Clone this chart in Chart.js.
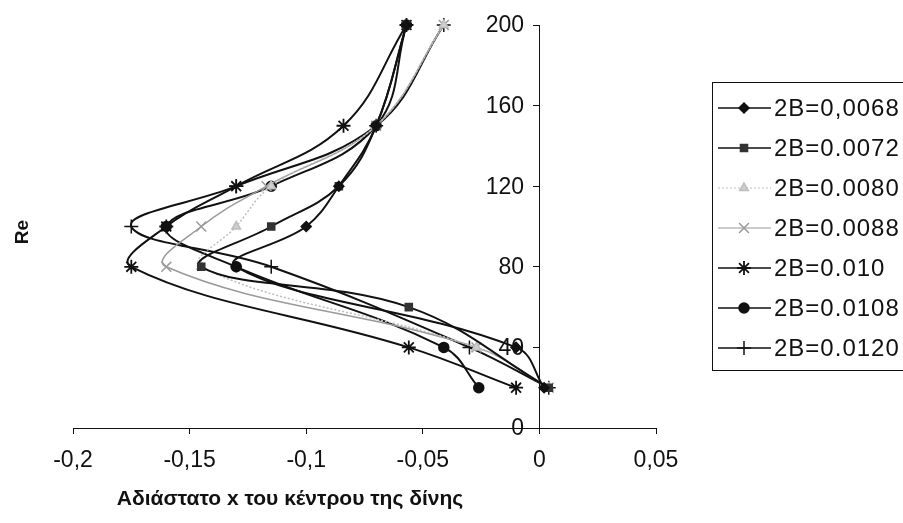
<!DOCTYPE html>
<html>
<head>
<meta charset="utf-8">
<script src="https://cdn.jsdelivr.net/npm/chart.js@4.4.0/dist/chart.umd.js"></script>
<style>
  html, body { margin:0; padding:0; background:#fff; }
  #wrap { position:relative; width:903px; height:523px; }
</style>
</head>
<body>
<div id="wrap"><canvas id="c" width="903" height="523"></canvas></div>
<script>
// series names as in the legend
const seriesNames = ['2B=0,0068', '2B=0.0072', '2B=0.0080', '2B=0.0088', '2B=0.010', '2B=0.0108', '2B=0.0120'];

// Re values (y) and x position of vortex centre for each series
const re0068 = [20, 40, 80, 100, 120, 150, 200];
const x0068  = [0.002, -0.010, -0.130, -0.100, -0.086, -0.070, -0.057];

const re0072 = [20, 60, 80, 100, 120, 150, 200];
const x0072  = [0.004, -0.056, -0.145, -0.115, -0.086, -0.070, -0.057];

const re0080 = [20, 40, 80, 100, 120, 150, 200];
const x0080  = [0.004, -0.027, -0.145, -0.130, -0.115, -0.070, -0.041];

const re0088 = [20, 40, 80, 100, 120, 150, 200];
const x0088  = [0.004, -0.027, -0.160, -0.145, -0.117, -0.070, -0.041];

const re0100 = [20, 40, 80, 100, 120, 150, 200];
const x0100  = [-0.010, -0.056, -0.175, -0.160, -0.130, -0.084, -0.057];

const re0108 = [20, 40, 80, 100, 120, 150, 200];
const x0108  = [-0.026, -0.041, -0.130, -0.160, -0.115, -0.070, -0.057];

const re0120 = [20, 40, 80, 100, 120, 150, 200];
const x0120  = [0.004, -0.030, -0.115, -0.175, -0.130, -0.070, -0.041];

const xTicks = [-0.2, -0.15, -0.1, -0.05, 0, 0.05];
const yTicks = [0, 40, 80, 120, 160, 200];

const FONT = "'Liberation Sans', Arial, sans-serif";

function pts(xs, ys) {
  return xs.map((x, i) => ({ x, y: ys[i] }));
}

function ds(label, xs, ys, st) {
  return Object.assign({
    label,
    data: pts(xs, ys),
    showLine: true,
    tension: 0.4,
    borderWidth: 2,
    borderColor: '#111',
    backgroundColor: '#111',
    pointBorderColor: '#111',
    pointBackgroundColor: '#111',
    pointRadius: 5,
    pointBorderWidth: 1.5,
  }, st);
}

const datasets = [
  ds(seriesNames[0], x0068, re0068, { pointStyle: 'rectRot', pointRadius: 5 }),
  ds(seriesNames[1], x0072, re0072, { pointStyle: 'rect', pointRadius: 5, pointBackgroundColor: '#333', pointBorderColor: '#333' }),
  ds(seriesNames[2], x0080, re0080, { pointStyle: 'triangle', borderColor: '#bdbdbd', borderWidth: 1.5, borderDash: [2, 2],
      pointBackgroundColor: '#cfcfcf', pointBorderColor: '#bdbdbd', pointRadius: 5 }),
  ds(seriesNames[3], x0088, re0088, { pointStyle: 'crossRot', borderColor: '#9a9a9a', borderWidth: 1.5,
      pointBorderColor: '#9a9a9a', pointRadius: 7, pointBorderWidth: 1.5 }),
  ds(seriesNames[4], x0100, re0100, { pointStyle: 'star', pointRadius: 7, pointBorderWidth: 1.8 }),
  ds(seriesNames[5], x0108, re0108, { pointStyle: 'circle', pointRadius: 5 }),
  ds(seriesNames[6], x0120, re0120, { pointStyle: 'cross', pointRadius: 7, pointBorderWidth: 1.5 }),
];

function fmt(v) {
  const r = Math.round(v * 100) / 100;
  return String(r).replace('.', ',');
}

// titles, y tick labels and the boxed legend drawn by hand
const extras = {
  id: 'extras',
  afterDraw(chart) {
    const ctx = chart.ctx;
    ctx.save();
    ctx.fillStyle = '#111';
    ctx.textBaseline = 'middle';

    // y tick labels, left of the axis at x = 0
    const ys = chart.scales.y;
    ctx.textAlign = 'right';
    ctx.font = `23px ${FONT}`;
    yTicks.forEach(v => ctx.fillText(String(v), 524, ys.getPixelForValue(v) + 1));

    ctx.textAlign = 'center';
    ctx.font = `bold 21px ${FONT}`;
    ctx.fillText('Αδιάστατο x του κέντρου της δίνης', 290, 499);
    ctx.save();
    ctx.translate(23, 232);
    ctx.rotate(-Math.PI / 2);
    ctx.font = `bold 19px ${FONT}`;
    ctx.fillText('Re', 0, 0);
    ctx.restore();

    // legend box
    ctx.strokeStyle = '#111';
    ctx.lineWidth = 1;
    ctx.strokeRect(712.5, 82.5, 200, 288);
    ctx.textAlign = 'left';
    ctx.font = `24px ${FONT}`;
    ctx.letterSpacing = '1px';
    chart.data.datasets.forEach((d, i) => {
      const y = 108 + i * 40;
      ctx.save();
      ctx.strokeStyle = d.borderColor;
      ctx.lineWidth = d.borderWidth > 1.5 ? 1.5 : 1.2;
      ctx.setLineDash(d.borderDash || []);
      ctx.beginPath();
      ctx.moveTo(718, y);
      ctx.lineTo(771, y);
      ctx.stroke();
      ctx.setLineDash([]);
      ctx.fillStyle = d.pointBackgroundColor;
      ctx.strokeStyle = d.pointBorderColor;
      ctx.lineWidth = d.pointBorderWidth;
      Chart.helpers.drawPoint(ctx, { pointStyle: d.pointStyle, radius: d.pointRadius, rotation: 0, borderWidth: d.pointBorderWidth }, 744, y);
      ctx.restore();
      ctx.fillStyle = '#111';
      ctx.fillText(d.label, 774, y + 1);
    });
    ctx.restore();
  }
};

new Chart(document.getElementById('c'), {
  type: 'scatter',
  data: { datasets },
  options: {
    responsive: false,
    animation: false,
    devicePixelRatio: 1,
    clip: false,
    layout: { padding: { left: 73, right: 247, top: 25, bottom: 0 } },
    plugins: { legend: { display: false }, tooltip: { enabled: false } },
    scales: {
      x: {
        type: 'linear',
        position: 'bottom',
        min: -0.2, max: 0.05,
        afterBuildTicks: (s) => { s.ticks = xTicks.map(v => ({ value: v })); },
        afterFit: (s) => { s.height = 95; },
        grid: { drawOnChartArea: false, drawTicks: true, tickLength: 6, color: '#111' },
        border: { display: true, color: '#111', width: 1 },
        ticks: { color: '#111', padding: 13, maxRotation: 0, font: { family: FONT, size: 23 }, callback: (v) => fmt(v) },
      },
      y: {
        type: 'linear',
        position: { x: 0 },
        min: 0, max: 200,
        afterBuildTicks: (s) => { s.ticks = yTicks.map(v => ({ value: v })); },
        grid: { drawOnChartArea: false, drawTicks: true, tickLength: 6, color: '#111' },
        border: { display: true, color: '#111', width: 1 },
        ticks: { display: false },
      }
    }
  },
  plugins: [extras]
});
</script>
</body>
</html>
